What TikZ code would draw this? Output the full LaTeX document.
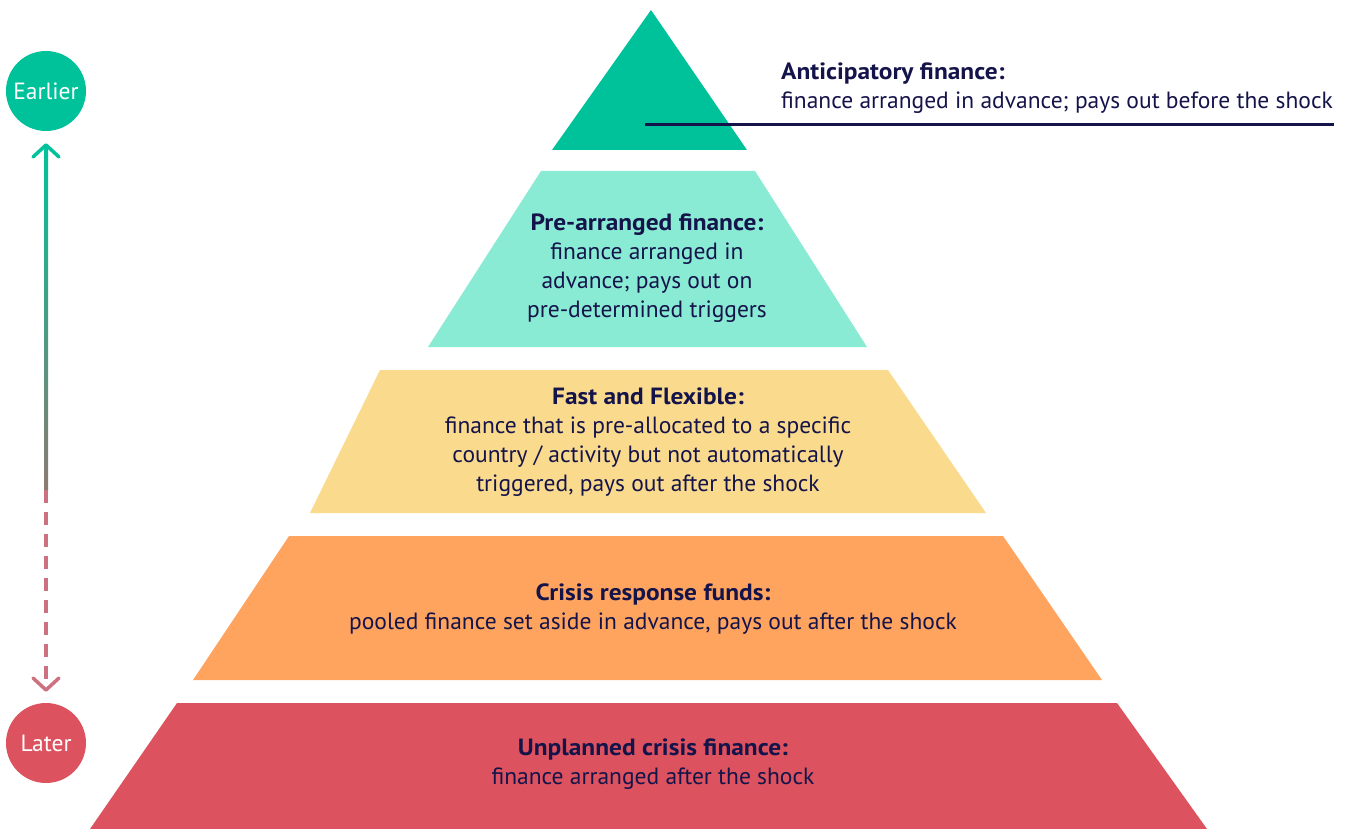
\documentclass[tikz,border=0pt]{standalone}
\usepackage{fontspec}
\setmainfont{PT Sans}[BoldFeatures={FakeStretch=1.08}]
\usetikzlibrary{arrows.meta,calc}
\definecolor{cteal}{RGB}{0,194,154}
\definecolor{cmint}{RGB}{138,235,212}
\definecolor{cyellow}{RGB}{250,218,140}
\definecolor{corange}{RGB}{255,164,94}
\definecolor{cred}{RGB}{220,82,94}
\definecolor{cnavy}{RGB}{20,20,75}
\definecolor{cgrey}{RGB}{140,122,112}
\definecolor{cpink}{RGB}{205,112,128}
\tikzset{
  lbl/.style={text=cnavy, font=\fontsize{23.5}{29}\selectfont, align=center, inner sep=0pt},
  circ/.style={circle, minimum size=80pt, inner sep=0pt, text=white, font=\fontsize{23.5}{27}\selectfont},
  barb/.style={line width=3.5pt, line cap=round, line join=round}
}
\begin{document}
\begin{tikzpicture}[x=1pt,y=-1pt]
\useasboundingbox (0,0) rectangle (1349,829);
% tiers
\fill[cteal] (651,10) -- (747,150) -- (552,150) -- cycle;
\fill[cmint] (541,171) -- (755,171) -- (867,347) -- (428,347) -- cycle;
\fill[cyellow] (380,370) -- (888,370) -- (986,513) -- (310,513) -- cycle;
\fill[corange] (289,536) -- (1003,536) -- (1102,680) -- (193,680) -- cycle;
\fill[cred] (177,703) -- (1117,703) -- (1207,829) -- (90,829) -- cycle;
% top line
\coordinate (lineL) at (645,125);
\coordinate (lineR) at (1334,125);
\draw[cnavy, line width=3pt] (lineL) -- (lineR);
% labels
\node[lbl, anchor=west, align=left] (t1) at (781,88) {\textbf{Anticipatory finance:}\\finance arranged in advance; pays out before the shock};
\node[lbl] (t2) at (647,268) {\textbf{Pre-arranged finance:}\\finance arranged in\\advance; pays out on\\pre-determined triggers};
\node[lbl] (t3) at (648,442) {\textbf{Fast and Flexible:}\\finance that is pre-allocated to a specific\\country / activity but not automatically\\triggered, pays out after the shock};
\node[lbl] (t4) at (653,609) {\textbf{Crisis response funds:}\\pooled finance set aside in advance, pays out after the shock};
\node[lbl] (t5) at (653,764) {\textbf{Unplanned crisis finance:}\\finance arranged after the shock};
% left timeline
\node[circ, fill=cteal] (earlier) at (46,91) {Earlier};
\node[circ, fill=cred] (later) at (46,743) {Later};
\coordinate (mid) at (46,490);
\coordinate (topTip) at (46,145);
\coordinate (botTip) at (46,690);
\shade[top color=cteal, bottom color=cgrey] (44,147) rectangle (48,490);
\draw[barb, cteal] ($(topTip)+(-13,12)$) -- (topTip) -- ($(topTip)+(13,12)$);
\draw[cpink, line width=4pt, dash pattern=on 13pt off 9pt] (mid) -- (botTip);
\draw[barb, cpink] ($(botTip)+(-13,-12)$) -- (botTip) -- ($(botTip)+(13,-12)$);
\end{tikzpicture}
\end{document}
